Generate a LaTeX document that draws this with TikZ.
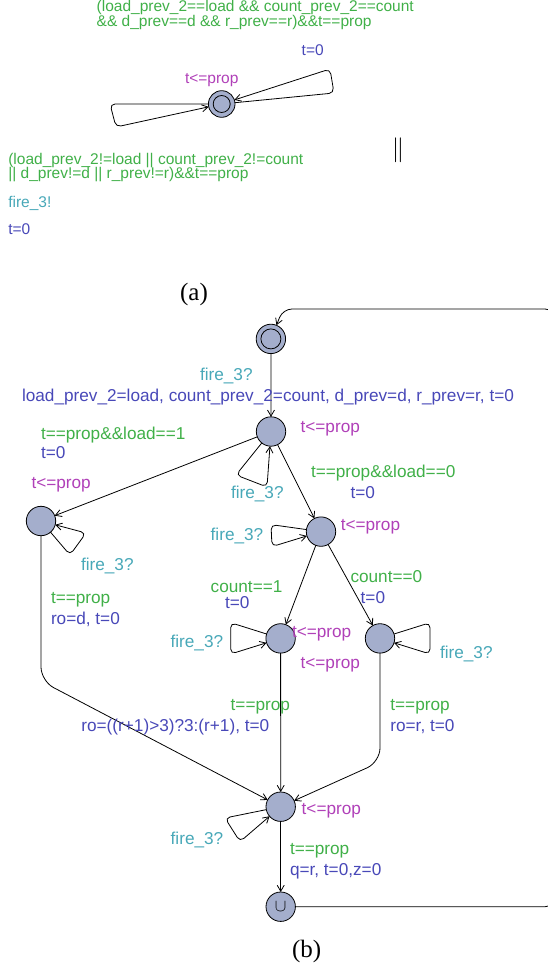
\documentclass[tikz,border=0pt]{standalone}
\usepackage{fontspec}
\setmainfont{Liberation Serif}
\newfontfamily\labfont{Liberation Sans}
\usetikzlibrary{arrows.meta}
\definecolor{locfill}{RGB}{164,174,204}
\definecolor{guardc}{RGB}{64,176,72}
\definecolor{syncc}{RGB}{72,168,184}
\definecolor{updc}{RGB}{72,72,184}
\definecolor{invc}{RGB}{176,64,184}
\begin{document}
\begin{tikzpicture}[x=1pt,y=-1pt,
  every node/.style={inner sep=0pt, outer sep=0pt},
  loc/.style={circle, draw, fill=locfill, line width=0.8pt, minimum size=29.4pt},
  loca/.style={loc, minimum size=26.6pt},
  initring/.style={path picture={\draw[line width=0.8pt] (path picture bounding box.center) circle (#1);}},
  lbl/.style={anchor=base west, font=\labfont\fontsize{17.2}{17.2}\selectfont},
  lbla/.style={anchor=base west, font=\labfont\fontsize{15.5}{15.5}\selectfont},
  guard/.style={text=guardc},
  sync/.style={text=syncc},
  upd/.style={text=updc},
  inv/.style={text=invc},
  conn/.style={line width=0.8pt, -{Straight Barb[length=6pt,width=7pt]}},
  selfloop/.style={conn, rounded corners=5pt},
  caption/.style={anchor=base, font=\fontsize{25}{25}\selectfont},
]
\useasboundingbox (0,0) rectangle (548,966);

% ---------------- (a) ----------------
\node[loca, initring=8.5pt] (a0) at (221.7,104) {};
\draw[selfloop] (a0) -- (334,93) -- (330,69) -- (a0);
\draw[selfloop] (a0) -- (110,104) -- (116,127) -- (a0);

\node[lbla, guard] (ag1) at (96.7,12) {(load\_prev\_2==load \&\& count\_prev\_2==count};
\node[lbla, guard] (ag2) at (96.7,27) {\&\& d\_prev==d \&\& r\_prev==r)\&\&t==prop};
\node[lbla, upd] (au1) at (301.7,55.5) {t=0};
\node[lbla, inv] (ai) at (185,83.5) {t<=prop};

\node[lbla, guard] (ag3) at (8.3,164) {(load\_prev\_2!=load || count\_prev\_2!=count};
\node[lbla, guard] (ag4) at (8.3,178) {|| d\_prev!=d || r\_prev!=r)\&\&t==prop};
\node[lbla, sync] (as1) at (8.3,207) {fire\_3!};
\node[lbla, upd] (au2) at (8.3,234.5) {t=0};

\node (par) at (398,150) {\fontsize{25}{25}\selectfont$\|$};
\node[caption] (capa) at (194,300) {(a)};

% ---------------- (b) ----------------
\node[loc, initring=10pt] (b0) at (270.9,338.9) {};
\node[loc] (b1) at (271,431.5) {};
\node[loc] (b2) at (41,521) {};
\node[loc] (b3) at (321,531.6) {};
\node[loc] (b4) at (280.6,638.4) {};
\node[loc] (b5) at (380,638.4) {};
\node[loc] (b6) at (280.7,806.7) {};
\node[loc] (b7) at (280.7,906.7) {\fontsize{17}{17}\selectfont$\cup$};

\draw[conn] (b0) -- (b1);
\draw[conn] (b1) -- (b2);
\draw[selfloop] (b1) -- (236,475) -- (267,487) -- (b1);
\draw[conn] (b1) -- (b3);
\draw[selfloop] (b2) -- (70,555) -- (86,533) -- (b2);
\draw[selfloop] (b3) -- (271,524.6) -- (272,546.6) -- (b3);
\draw[conn] (b3) -- (b4);
\draw[conn] (b3) -- (b5);
\draw[selfloop] (b4) -- (230.7,622.7) -- (230.7,654) -- (b4);
\draw[selfloop] (b5) -- (430,622.7) -- (430,654) -- (b5);
\draw[conn, rounded corners=14pt] (b2) -- (41,681) -- (b6);
\draw[conn] (b4) -- (b6);
\draw[conn, rounded corners=14pt] (b5) -- (380,762) -- (b6);
\draw[selfloop] (b6) -- (225,818) -- (240,841.7) -- (b6);
\draw[conn] (b6) -- (b7);
\draw[conn, rounded corners=9pt] (b7) -- (554,906.7) -- (554,309) -- (283,309) -- (b0);

% labels
\node[lbl, sync] (s01) at (200,380) {fire\_3?};
\node[lbl, upd] (u01) at (22,401) {load\_prev\_2=load, count\_prev\_2=count, d\_prev=d, r\_prev=r, t=0};
\node[lbl, inv] (i1) at (300.6,432) {t<=prop};
\node[lbl, guard] (g12) at (41,439) {t==prop\&\&load==1};
\node[lbl, upd] (u12) at (41,458) {t=0};
\node[lbl, inv] (i2) at (31.5,488) {t<=prop};
\node[lbl, sync] (s11) at (231,498) {fire\_3?};
\node[lbl, guard] (g13) at (311,477) {t==prop\&\&load==0};
\node[lbl, upd] (u13) at (350.5,498) {t=0};
\node[lbl, inv] (i3) at (340.8,530) {t<=prop};
\node[lbl, sync] (s33) at (210.7,540) {fire\_3?};
\node[lbl, sync] (s22) at (81,570) {fire\_3?};
\node[lbl, guard] (g34) at (210.7,592) {count==1};
\node[lbl, upd] (u34) at (225,608) {t=0};
\node[lbl, guard] (g35) at (350.5,582) {count==0};
\node[lbl, upd] (u35) at (360.7,603) {t=0};
\node[lbl, guard] (g26) at (51,603) {t==prop};
\node[lbl, upd] (u26) at (51,624) {ro=d, t=0};
\node[lbl, inv] (i4) at (292,637.5) {t<=prop};
\node[lbl, inv] (i5) at (300.6,668) {t<=prop};
\node[lbl, sync] (s44) at (170.6,647) {fire\_3?};
\node[lbl, sync] (s55) at (440,658) {fire\_3?};
\node[lbl, guard] (g46) at (230.7,710) {t==prop};
\node[lbl, upd] (u46) at (81.4,731) {ro=((r+1)>3)?3:(r+1), t=0};
\node[lbl, guard] (g56) at (390.4,710) {t==prop};
\node[lbl, upd] (u56) at (390.4,731) {ro=r, t=0};
\node[lbl, inv] (i6) at (301.7,814) {t<=prop};
\node[lbl, sync] (s66) at (170.7,844) {fire\_3?};
\node[lbl, guard] (g67) at (290,854) {t==prop};
\node[lbl, upd] (u67) at (290,875) {q=r, t=0,z=0};

\node[caption] (capb) at (306.7,957) {(b)};
\end{tikzpicture}
\end{document}
